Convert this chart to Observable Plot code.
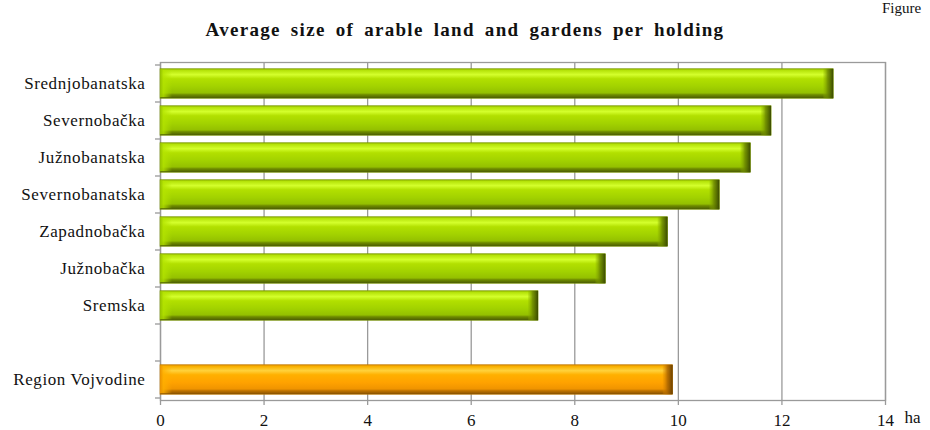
<!DOCTYPE html>
<html>
<head>
<meta charset="utf-8">
<script src="https://cdn.jsdelivr.net/npm/d3@7"></script>
<script src="https://cdn.jsdelivr.net/npm/@observablehq/plot@0.6"></script>
<style>
  html, body { margin: 0; padding: 0; background: #fff; }
  body { width: 930px; height: 430px; position: relative; overflow: hidden; font-family: 'Liberation Serif', serif; }
  #figure { position: absolute; left: 882px; top: 1px; font-size: 15px; line-height: 15px; color: #111; white-space: nowrap; font-family: 'Liberation Serif', serif; }
  #title { position: absolute; left: 0; width: 930px; top: 19px; text-align: center; font-weight: bold; font-size: 19px; letter-spacing: 1.3px; word-spacing: 4px; color: #111; font-family: 'Liberation Serif', serif; }
  #chart { position: absolute; left: 0; top: 50px; }
  #chart svg, #chart svg text { font-family: 'Liberation Serif', serif !important; }
  #chart svg g[aria-label="y-axis tick label"] text { letter-spacing: 0.6px; }
</style>
</head>
<body>
<svg width="0" height="0" style="position:absolute">
  <defs>
    <linearGradient id="gGreen" x1="0" y1="0" x2="0" y2="1">
      <stop offset="0" stop-color="#8fb400"/>
      <stop offset="0.06" stop-color="#b6e40a"/>
      <stop offset="0.2" stop-color="#d4ff2c"/>
      <stop offset="0.34" stop-color="#b2e000"/>
      <stop offset="0.6" stop-color="#a2d200"/>
      <stop offset="0.82" stop-color="#94c000"/>
      <stop offset="0.88" stop-color="#6f8c00"/>
      <stop offset="0.96" stop-color="#566c00"/>
      <stop offset="1" stop-color="#44540a"/>
    </linearGradient>
    <linearGradient id="gGreenEnd" x1="0" y1="0" x2="1" y2="0">
      <stop offset="0" stop-color="#8cb000" stop-opacity="0.2"/>
      <stop offset="0.45" stop-color="#6a8600" stop-opacity="0.85"/>
      <stop offset="1" stop-color="#3a4a00"/>
    </linearGradient>
    <linearGradient id="gGreenStart" x1="0" y1="0" x2="1" y2="0">
      <stop offset="0" stop-color="#92be00"/>
      <stop offset="0.3" stop-color="#b4e400" stop-opacity="0.8"/>
      <stop offset="1" stop-color="#b4e400" stop-opacity="0"/>
    </linearGradient>
    <linearGradient id="gOrange" x1="0" y1="0" x2="0" y2="1">
      <stop offset="0" stop-color="#d88a00"/>
      <stop offset="0.06" stop-color="#f9b000"/>
      <stop offset="0.2" stop-color="#ffd23c"/>
      <stop offset="0.34" stop-color="#ffb000"/>
      <stop offset="0.6" stop-color="#ffa200"/>
      <stop offset="0.82" stop-color="#f09400"/>
      <stop offset="0.88" stop-color="#c07400"/>
      <stop offset="0.96" stop-color="#9a5c00"/>
      <stop offset="1" stop-color="#7a4800"/>
    </linearGradient>
    <linearGradient id="gOrangeEnd" x1="0" y1="0" x2="1" y2="0">
      <stop offset="0" stop-color="#e08a00" stop-opacity="0.2"/>
      <stop offset="0.45" stop-color="#b06800" stop-opacity="0.85"/>
      <stop offset="1" stop-color="#6a4000"/>
    </linearGradient>
    <linearGradient id="gOrangeStart" x1="0" y1="0" x2="1" y2="0">
      <stop offset="0" stop-color="#e89000"/>
      <stop offset="0.3" stop-color="#ffb000" stop-opacity="0.8"/>
      <stop offset="1" stop-color="#ffb000" stop-opacity="0"/>
    </linearGradient>
  </defs>
</svg>
<div id="figure">Figure</div>
<div id="title">Average size of arable land and gardens per holding</div>
<div id="chart"></div>
<script>
// ---- data ----
const categories = ["Srednjobanatska", "Severnobačka", "Južnobanatska", "Severnobanatska", "Zapadnobačka", "Južnobačka", "Sremska", " ", "Region Vojvodine"];
const values = [13.0, 11.8, 11.4, 10.8, 9.8, 8.6, 7.3, null, 9.9];
const isTotal = [false, false, false, false, false, false, false, false, true];
const xTicks = [0, 2, 4, 6, 8, 10, 12, 14];
const xUnit = "ha";

const rows = categories.map((name, i) => ({name, value: values[i], total: isTotal[i]})).filter(d => d.value != null);
const regionRows = rows.filter(d => !d.total);
const totalRows = rows.filter(d => d.total);

const inset = 3.75;
const grey = "#9a9a9a";

// small category-boundary ticks on the left axis, drawn from the y band scale
function categoryTicks(index, scales, values, dims) {
  const ns = "http://www.w3.org/2000/svg";
  const g = document.createElementNS(ns, "g");
  const y = scales.y;
  const dom = y.domain();
  const bw = y.bandwidth();
  const edges = dom.map(d => y(d));
  edges.push(y(dom[dom.length - 1]) + bw);
  for (const e of edges) {
    const l = document.createElementNS(ns, "line");
    l.setAttribute("x1", dims.marginLeft - 5);
    l.setAttribute("x2", dims.marginLeft);
    l.setAttribute("y1", e);
    l.setAttribute("y2", e);
    l.setAttribute("stroke", grey);
    l.setAttribute("stroke-width", 1.3);
    g.appendChild(l);
  }
  return g;
}

const chart = Plot.plot({
  width: 930,
  height: 380,
  marginTop: 12,
  marginBottom: 30,
  marginLeft: 160,
  marginRight: 45,
  style: "font-family: 'Liberation Serif', serif; font-size: 17px; color: #111; background: transparent;",
  x: {domain: [0, 14], ticks: xTicks, label: null},
  y: {domain: categories, padding: 0, label: null},
  marks: [
    Plot.gridX(xTicks, {stroke: grey, strokeOpacity: 1, strokeWidth: 1.3}),
    Plot.frame({stroke: grey, strokeWidth: 1.3}),
    Plot.axisX({ticks: xTicks, tickSize: 5, tickPadding: 8, stroke: grey, strokeWidth: 1.3, label: null, tickFormat: d => String(d), fill: "#111", fontSize: 17}),
    Plot.axisY({tickSize: 0, tickPadding: 15, label: null, tickFormat: d => d.trim(), fill: "#111", fontSize: 17}),
    categoryTicks,
    // green region bars
    Plot.barX(regionRows, {x: "value", y: "name", fill: "url(#gGreen)", stroke: "#7a9600", strokeWidth: 0.6, insetTop: inset, insetBottom: inset}),
    Plot.barX(regionRows, {x1: 0, x2: 0, y: "name", fill: "url(#gGreenStart)", insetRight: -12, insetTop: inset + 1, insetBottom: inset + 1}),
    Plot.barX(regionRows, {x1: "value", x2: "value", y: "name", fill: "url(#gGreenEnd)", insetLeft: -10, insetTop: inset, insetBottom: inset}),
    // orange total bar
    Plot.barX(totalRows, {x: "value", y: "name", fill: "url(#gOrange)", stroke: "#c07800", strokeWidth: 0.6, insetTop: inset, insetBottom: inset}),
    Plot.barX(totalRows, {x1: 0, x2: 0, y: "name", fill: "url(#gOrangeStart)", insetRight: -12, insetTop: inset + 1, insetBottom: inset + 1}),
    Plot.barX(totalRows, {x1: "value", x2: "value", y: "name", fill: "url(#gOrangeEnd)", insetLeft: -10, insetTop: inset, insetBottom: inset}),
    // unit label right of the axis
    Plot.text([xUnit], {frameAnchor: "bottom-right", textAnchor: "start", dx: 19, dy: 22, fill: "#111", fontSize: 17})
  ]
});
document.getElementById("chart").appendChild(chart);
</script>
</body>
</html>
